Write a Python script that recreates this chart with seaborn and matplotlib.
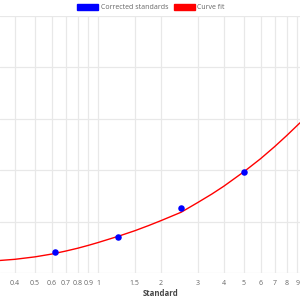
import matplotlib
matplotlib.use("Agg")
import matplotlib.pyplot as plt
from matplotlib.patches import Patch
import seaborn as sns
import pandas as pd

# corrected standards (concentration vs. signal)
std_conc = [0.625, 1.25, 2.5, 5.0]
std_signal = [0.204, 0.353, 0.629, 0.982]

# fitted curve
fit_conc = [0.34, 0.4, 0.5, 0.6, 0.7, 0.8, 0.9, 1.0, 1.25, 1.5, 1.75, 2.0, 2.5, 3.0, 3.5, 4.0, 5.0, 6.0, 7.0, 8.0, 9.26]
fit_signal = [0.122, 0.133, 0.157, 0.184, 0.213, 0.241, 0.269, 0.296, 0.357, 0.411, 0.462, 0.509,
              0.591, 0.685, 0.767, 0.844, 0.986, 1.112, 1.229, 1.337, 1.461]

x_ticks = [0.4, 0.5, 0.6, 0.7, 0.8, 0.9, 1, 1.5, 2, 3, 4, 5, 6, 7, 8, 9]
x_tick_labels = ["0.4", "0.5", "0.6", "0.7", "0.8", "0.9", "1", "1.5", "2", "3", "4", "5", "6", "7", "8", "9"]
y_grid = [0, 0.5, 1.0, 1.5, 2.0, 2.5]

sns.set_style("white")
plt.rcParams["font.family"] = ["Open Sans", "DejaVu Sans"]

fig = plt.figure(figsize=(3, 3), dpi=100)
ax = fig.add_axes([0, 0.09, 1, 0.8567])

fit_df = pd.DataFrame({"conc": fit_conc, "signal": fit_signal})
std_df = pd.DataFrame({"conc": std_conc, "signal": std_signal})

sns.lineplot(data=fit_df, x="conc", y="signal", color="#ff0000", linewidth=1.0, ax=ax, zorder=3)
sns.scatterplot(data=std_df, x="conc", y="signal", color="#0000ff", s=22, edgecolor="#0000ff", linewidth=0, ax=ax, zorder=4)

ax.set_xscale("log")
ax.set_xlim(0.34, 9.26)
ax.set_ylim(0, 2.5)
ax.set_xticks(x_ticks)
ax.set_xticklabels(x_tick_labels)
ax.minorticks_off()
ax.set_yticks(y_grid)
ax.set_yticklabels([])
ax.tick_params(axis="x", length=0, pad=5, labelsize=5.0, labelcolor="#666666")
ax.tick_params(axis="y", length=0)
ax.grid(True, color="#e8e8e8", linewidth=0.9)
ax.set_axisbelow(True)
for s in ax.spines.values():
    s.set_visible(False)
ax.set_xlabel("")
ax.set_ylabel("")

fig.text(161 / 300, 1 - 294 / 300, "Standard", ha="center", va="center",
         fontsize=5.6, fontweight="bold", color="#444444")

handles = [Patch(facecolor="#0000ff", edgecolor="#0000ff", label="Corrected standards"),
           Patch(facecolor="#ff0000", edgecolor="#ff0000", label="Curve fit")]
fig.legend(handles=handles, loc="center", bbox_to_anchor=(151 / 300, 1 - 7.5 / 300), ncol=2,
           frameon=False, fontsize=5.0, labelcolor="#666666", handlelength=3.0, handleheight=0.9,
           handletextpad=0.4, columnspacing=0.8, borderpad=0)

fig.savefig("out.png", dpi=100)
